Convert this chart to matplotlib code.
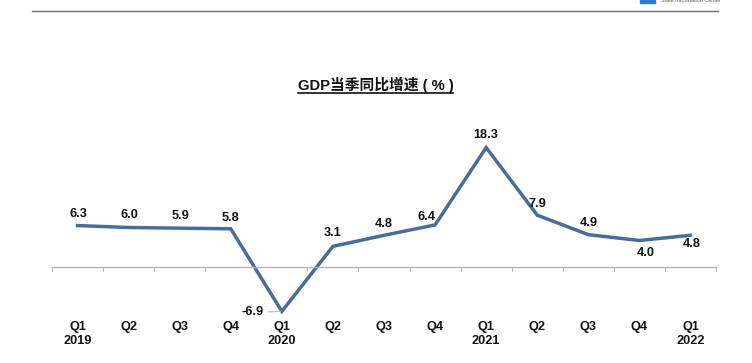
import matplotlib
matplotlib.use('Agg')
from matplotlib import pyplot as plt
from matplotlib.transforms import blended_transform_factory
import numpy as np

plt.rcParams['font.family'] = ['Liberation Sans', 'Noto Sans CJK SC', 'DejaVu Sans']

quarters = ['Q1', 'Q2', 'Q3', 'Q4', 'Q1', 'Q2', 'Q3', 'Q4', 'Q1', 'Q2', 'Q3', 'Q4', 'Q1']
years = ['2019', '', '', '', '2020', '', '', '', '2021', '', '', '', '2022']
growth = [6.3, 6.0, 5.9, 5.8, -6.9, 3.1, 4.8, 6.4, 18.3, 7.9, 4.9, 4.0, 4.8]
value_labels = ['6.3', '6.0', '5.9', '5.8', '-6.9', '3.1', '4.8', '6.4', '18.3', '7.9', '4.9', '4.0', '4.8']
# label shift from the point, in pixels
label_dx = [1, 1, 1, 0, -29, 0, 0, -9, 0, 0, 0, 6, 1]
label_dy = [12, 12, 12, 11, -1, 13, 11, 8, 13, 11, 12, -13, -9]

W, H = 752, 363
fig = plt.figure(figsize=(W / 100, H / 100), dpi=100)

# axes box in pixels: x 52-716, y 120-345
ax = fig.add_axes([52 / W, 1 - 345 / H, 664 / W, 225 / H])
x = np.arange(len(growth))
ax.set_xlim(-0.5, len(growth) - 0.5)
ax.set_ylim(-(345 - 266.5) / 6.5, (266.5 - 120) / 6.5)

ax.plot(x, growth, color='#4a6c9b', lw=2.5, solid_joinstyle='miter', clip_on=False)

for s in ['top', 'left', 'right']:
    ax.spines[s].set_visible(False)
ax.spines['bottom'].set_position(('data', 0))
ax.spines['bottom'].set_color('#b5b5b5')
ax.spines['bottom'].set_linewidth(1)
ax.set_yticks([])
ax.set_xticks(np.arange(len(growth) + 1) - 0.5)
ax.set_xticklabels([])
ax.tick_params(axis='x', length=3, width=0.8, color='#b5b5b5', direction='out')
ax.patch.set_visible(False)

for i, lab in enumerate(value_labels):
    if lab == '-6.9':
        ax.annotate(lab, (x[i], growth[i]), xytext=(label_dx[i], label_dy[i]),
                    textcoords='offset pixels', ha='center', va='center',
                    fontsize=9.2, fontweight='bold', color='#111111',
                    arrowprops=dict(arrowstyle='-', color='#c0c0c0', lw=0.8, shrinkA=1, shrinkB=1))
    else:
        ax.annotate(lab, (x[i], growth[i]), xytext=(label_dx[i], label_dy[i]),
                    textcoords='offset pixels', ha='center', va='center',
                    fontsize=9.2, fontweight='bold', color='#111111')

trans = blended_transform_factory(ax.transData, fig.transFigure)
for i in x:
    ax.text(i, 1 - 327 / H, quarters[i], transform=trans, ha='center', va='center',
            fontsize=9.2, fontweight='bold', color='#111111')
    if years[i]:
        ax.text(i, 1 - 341.5 / H, years[i], transform=trans, ha='center', va='center',
                fontsize=9.2, fontweight='bold', color='#111111')

# title with underline
fig.text(375.5 / W, 1 - 85 / H, 'GDP当季同比增速 ( % )', ha='center', va='center',
         fontsize=10.6, fontweight='bold', color='#111111')
fig.add_artist(plt.Line2D([298 / W, 453 / W], [1 - 92.5 / H] * 2, color='#111111', lw=1.2))

# header rule and logo
fig.add_artist(plt.Line2D([32 / W, 718 / W], [1 - 10.5 / H] * 2, color='#6e6e6e', lw=1))
fig.patches.append(plt.Rectangle((640 / W, 1 - 3 / H), 15 / W, 3 / H, transform=fig.transFigure,
                                 color='#2f7ec9', figure=fig))
fig.text(661 / W, 1 - 1 / H, 'State Information Center', ha='left', va='center',
         fontsize=4, color='#555555')

fig.savefig('out.png', dpi=100)
